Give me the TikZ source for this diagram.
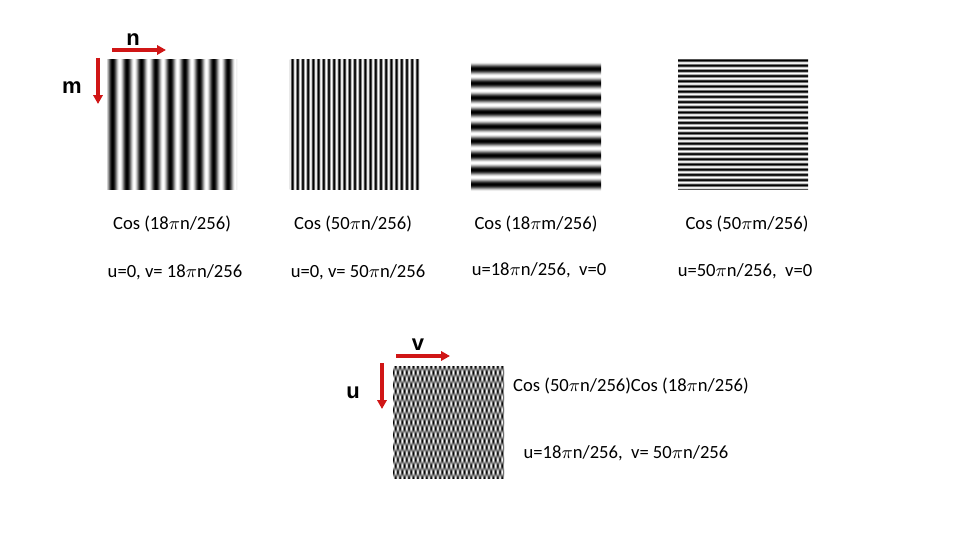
\documentclass[tikz,border=0pt]{standalone}
\usepackage{fontspec}
\setmainfont{Carlito}
\newfontfamily\ejefont{Liberation Sans}
\usetikzlibrary{arrows.meta, positioning}
\definecolor{rojoeje}{RGB}{208, 22, 22}

% patrones coseno (el trozo 25bp..75bp cae sobre el nodo)
\pgfdeclarefunctionalshading{colnueve}{\pgfpoint{0bp}{0bp}}{\pgfpoint{100bp}{100bp}}{}{
  pop 64.8 mul 230.4 add cos 1 add 2 div dup dup}
\pgfdeclarefunctionalshading{colveinticinco}{\pgfpoint{0bp}{0bp}}{\pgfpoint{100bp}{100bp}}{}{
  pop 180 mul 180 add cos 1 add 2 div dup dup}
\pgfdeclarefunctionalshading{filnueve}{\pgfpoint{0bp}{0bp}}{\pgfpoint{100bp}{100bp}}{}{
  exch pop 64.8 mul 162 add cos 1 add 2 div dup dup}
\pgfdeclarefunctionalshading{filveinticinco}{\pgfpoint{0bp}{0bp}}{\pgfpoint{100bp}{100bp}}{}{
  exch pop 180 mul cos 1 add 2 div dup dup}
\pgfdeclarefunctionalshading{producto}{\pgfpoint{0bp}{0bp}}{\pgfpoint{100bp}{100bp}}{}{
  64.8 mul cos exch 180 mul cos mul 1 add 2 div dup dup}

\begin{document}
\begin{tikzpicture}[x=0.5pt, y=-0.5pt,
    patron/.style={rectangle, inner sep=0pt, shade, minimum width=65pt, minimum height=65pt},
    rotulo/.style={inner sep=0pt, font=\fontsize{9.3}{11}\selectfont},
    letra/.style={inner sep=0pt, font=\ejefont\bfseries\fontsize{11}{13}\selectfont},
    eje/.style={-{Triangle[length=4.4pt, width=4.6pt]}, line width=1.6pt, rojoeje}
]
\useasboundingbox (0,0) rectangle (960,540);
\node (img1) [patron, shading=colnueve] at (172,125) {};
\node (img2) [patron, shading=colveinticinco] at (354.5,125) {};
\node (img3) [patron, shading=filnueve] at (536,127) {};
\node (img4) [patron, shading=filveinticinco] at (743,125) {};
\node (img5) [patron, shading=producto, minimum width=55.5pt, minimum height=56pt] at (448.5,422) {};

\node (c1) [rotulo] at (172,224) {Cos (18\(\pi\)n/256)};
\node (c2) [rotulo] at (353,224) {Cos (50\(\pi\)n/256)};
\node (c3) [rotulo] at (536,224) {Cos (18\(\pi\)m/256)};
\node (c4) [rotulo] at (747,224) {Cos (50\(\pi\)m/256)};
\node (f1) [rotulo] at (175,272) {u=0, v= 18\(\pi\)n/256};
\node (f2) [rotulo] at (358,272) {u=0, v= 50\(\pi\)n/256};
\node (f3) [rotulo] at (539,270) {u=18\(\pi\)n/256,\ \ v=0};
\node (f4) [rotulo] at (745,271) {u=50\(\pi\)n/256,\ \ v=0};
\node (c5) [rotulo] at (631,386) {Cos (50\(\pi\)n/256)Cos (18\(\pi\)n/256)};
\node (f5) [rotulo] at (626,453) {u=18\(\pi\)n/256,\ \ v= 50\(\pi\)n/256};

% ejes de la primera imagen
\coordinate (n0) at (112,50);
\coordinate (n1) at (166,50);
\coordinate (m0) at (98,58);
\coordinate (m1) at (98,104);
\draw [eje] (n0) -- (n1);
\draw [eje] (m0) -- (m1);
\node (ln) [letra] at (133,40) {n};
\node (lm) [letra] at (72,88) {m};

% ejes de la imagen producto
\coordinate (v0) at (396,356);
\coordinate (v1) at (450,356);
\coordinate (u0) at (382,363);
\coordinate (u1) at (382,409);
\draw [eje] (v0) -- (v1);
\draw [eje] (u0) -- (u1);
\node (lv) [letra] at (418,345) {v};
\node (lu) [letra] at (353,393) {u};
\end{tikzpicture}
\end{document}
